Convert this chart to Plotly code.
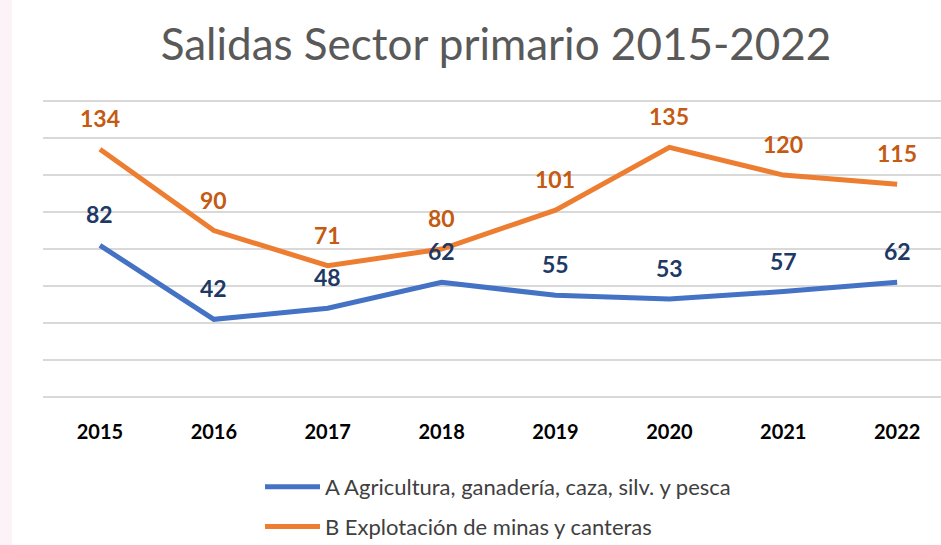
import plotly.graph_objects as go

years = ["2015", "2016", "2017", "2018", "2019", "2020", "2021", "2022"]
agricultura = [82, 42, 48, 62, 55, 53, 57, 62]
minas = [134, 90, 71, 80, 101, 135, 120, 115]

name_a = "A Agricultura, ganadería, caza, silv. y pesca"
name_b = "B Explotación de minas y canteras"

blue = "#4472C4"
orange = "#ED7D31"

fig = go.Figure()
fig.add_trace(
    go.Scatter(
        x=years,
        y=agricultura,
        mode="lines",
        name=name_a,
        legendgroup="a",
        line=dict(color=blue, width=5),
    ),
)
fig.add_trace(
    go.Scatter(
        x=years,
        y=minas,
        mode="lines",
        name=name_b,
        legendgroup="b",
        line=dict(color=orange, width=5),
    ),
)

# data labels above each point (category axis -> use the category index)
for i, v in enumerate(agricultura):
    fig.add_annotation(
        x=i, y=v, text="<b>%d</b>" % v, showarrow=False, yshift=31,
        font=dict(family="Lato", size=23, color="#203864"),
    )
for i, v in enumerate(minas):
    fig.add_annotation(
        x=i, y=v, text="<b>%d</b>" % v, showarrow=False, yshift=31,
        font=dict(family="Lato", size=23, color="#C55A11"),
    )

# faint pink strip at the left edge of the picture
fig.add_shape(
    type="rect", xref="paper", yref="paper",
    x0=-43 / 898, x1=-31 / 898, y0=-148 / 297, y1=100 / 297 + 1,
    fillcolor="#FBF3F8", line=dict(width=0), layer="below",
)

fig.update_layout(
    width=941,
    height=545,
    title=dict(
        text="Salidas Sector primario 2015-2022",
        x=(496 - 43) / 898, xref="paper", xanchor="center",
        y=1 - 45 / 545, yref="container", yanchor="middle",
        font=dict(family="Lato", size=44, color="#595959"),
    ),
    paper_bgcolor="white",
    plot_bgcolor="white",
    margin=dict(l=43, r=0, t=100, b=148, autoexpand=False),
    xaxis=dict(
        type="category",
        range=[-0.5, 7.385],
        showgrid=False,
        showline=False,
        ticks="",
        tickangle=0,
        tickfont=dict(family="Lato", size=20, color="#000000"),
        tickprefix="<b>",
        ticksuffix="</b>",
        ticklabelstandoff=21,
    ),
    yaxis=dict(
        range=[0, 160.6],
        dtick=20,
        showticklabels=False,
        gridcolor="#D9D9D9",
        gridwidth=2,
        zeroline=True,
        zerolinecolor="#D9D9D9",
        zerolinewidth=2,
    ),
    legend=dict(
        x=(260 - 43) / 898, xanchor="left",
        y=-(466 - 397) / 297, yanchor="top",
        tracegroupgap=8,
        itemwidth=55,
        font=dict(family="Lato", size=22, color="#404040"),
        bgcolor="rgba(0,0,0,0)",
    ),
)

fig.write_html(
    "out.html",
    config={"displayModeBar": False},
    post_script="document.body.style.margin='0px';",
)
